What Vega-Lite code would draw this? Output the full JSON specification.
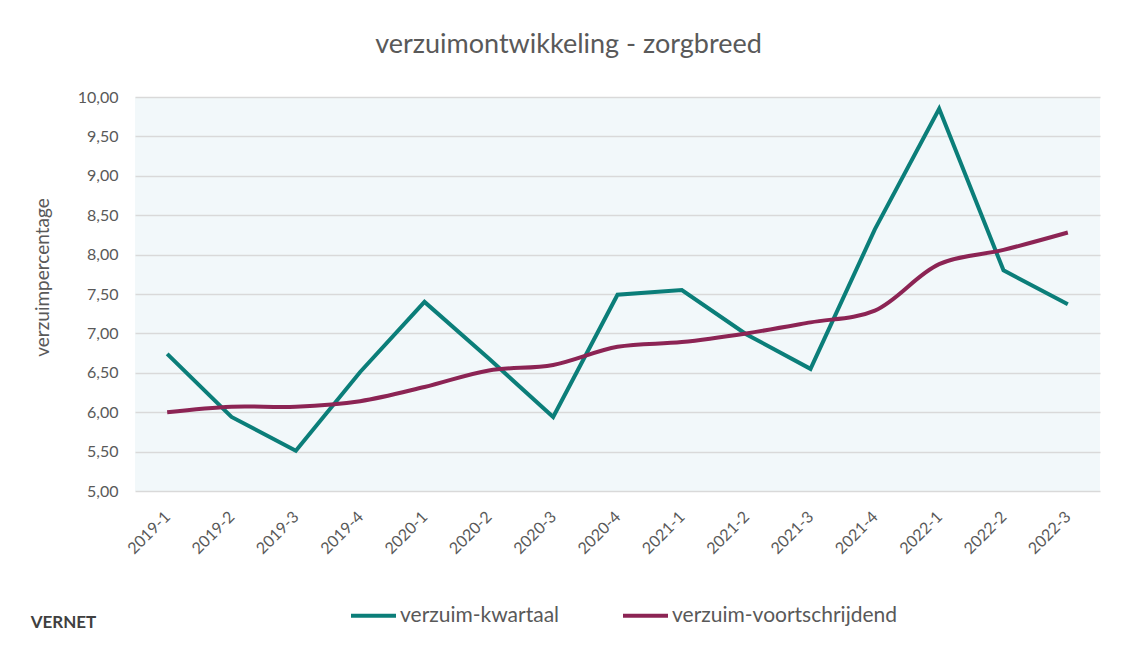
{
  "$schema": "https://vega.github.io/schema/vega-lite/v6.json",
  "width": 965,
  "height": 394,
  "autosize": {"type": "none"},
  "padding": {"left": 135, "top": 97, "right": 27, "bottom": 155},
  "background": "#ffffff",
  "config": {
    "locale": {"number": {"decimal": ",", "thousands": ".", "grouping": [3], "currency": ["€", ""]}},
    "font": "Lato",
    "view": {"fill": "#F2F8FA", "stroke": null}
  },
  "title": {
    "text": "verzuimontwikkeling - zorgbreed",
    "font": "Lato",
    "fontSize": 27,
    "fontWeight": "normal",
    "color": "#595959",
    "anchor": "middle",
    "dx": -49,
    "offset": 30
  },
  "data": {
    "values": [
      {"kwartaal": "2019-1", "reeks": "verzuim-kwartaal", "verzuim": 6.74},
      {"kwartaal": "2019-2", "reeks": "verzuim-kwartaal", "verzuim": 5.94},
      {"kwartaal": "2019-3", "reeks": "verzuim-kwartaal", "verzuim": 5.51},
      {"kwartaal": "2019-4", "reeks": "verzuim-kwartaal", "verzuim": 6.51},
      {"kwartaal": "2020-1", "reeks": "verzuim-kwartaal", "verzuim": 7.40},
      {"kwartaal": "2020-2", "reeks": "verzuim-kwartaal", "verzuim": 6.68},
      {"kwartaal": "2020-3", "reeks": "verzuim-kwartaal", "verzuim": 5.94},
      {"kwartaal": "2020-4", "reeks": "verzuim-kwartaal", "verzuim": 7.49},
      {"kwartaal": "2021-1", "reeks": "verzuim-kwartaal", "verzuim": 7.55},
      {"kwartaal": "2021-2", "reeks": "verzuim-kwartaal", "verzuim": 6.99},
      {"kwartaal": "2021-3", "reeks": "verzuim-kwartaal", "verzuim": 6.55},
      {"kwartaal": "2021-4", "reeks": "verzuim-kwartaal", "verzuim": 8.32},
      {"kwartaal": "2022-1", "reeks": "verzuim-kwartaal", "verzuim": 9.85},
      {"kwartaal": "2022-2", "reeks": "verzuim-kwartaal", "verzuim": 7.80},
      {"kwartaal": "2022-3", "reeks": "verzuim-kwartaal", "verzuim": 7.37},
      {"kwartaal": "2019-1", "reeks": "verzuim-voortschrijdend", "verzuim": 6.00},
      {"kwartaal": "2019-2", "reeks": "verzuim-voortschrijdend", "verzuim": 6.07},
      {"kwartaal": "2019-3", "reeks": "verzuim-voortschrijdend", "verzuim": 6.07},
      {"kwartaal": "2019-4", "reeks": "verzuim-voortschrijdend", "verzuim": 6.14},
      {"kwartaal": "2020-1", "reeks": "verzuim-voortschrijdend", "verzuim": 6.32},
      {"kwartaal": "2020-2", "reeks": "verzuim-voortschrijdend", "verzuim": 6.53},
      {"kwartaal": "2020-3", "reeks": "verzuim-voortschrijdend", "verzuim": 6.60},
      {"kwartaal": "2020-4", "reeks": "verzuim-voortschrijdend", "verzuim": 6.83},
      {"kwartaal": "2021-1", "reeks": "verzuim-voortschrijdend", "verzuim": 6.89},
      {"kwartaal": "2021-2", "reeks": "verzuim-voortschrijdend", "verzuim": 7.00},
      {"kwartaal": "2021-3", "reeks": "verzuim-voortschrijdend", "verzuim": 7.14},
      {"kwartaal": "2021-4", "reeks": "verzuim-voortschrijdend", "verzuim": 7.29},
      {"kwartaal": "2022-1", "reeks": "verzuim-voortschrijdend", "verzuim": 7.88},
      {"kwartaal": "2022-2", "reeks": "verzuim-voortschrijdend", "verzuim": 8.06},
      {"kwartaal": "2022-3", "reeks": "verzuim-voortschrijdend", "verzuim": 8.28}
    ]
  },
  "encoding": {
    "x": {
      "field": "kwartaal",
      "type": "ordinal",
      "scale": {"type": "point", "padding": 0.5},
      "axis": {
        "title": "VERNET",
        "titleX": -72,
        "titleY": 131,
        "titleAlign": "center",
        "titleBaseline": "middle",
        "titleFont": "Lato",
        "titleFontSize": 17,
        "titleFontWeight": "bold",
        "titleColor": "#404040",
        "labelAngle": -45,
        "labelAlign": "right",
        "labelBaseline": "middle",
        "labelFontSize": 16,
        "labelColor": "#595959",
        "labelPadding": 23,
        "ticks": false,
        "domain": false,
        "grid": false
      }
    },
    "y": {
      "field": "verzuim",
      "type": "quantitative",
      "scale": {"domain": [5, 10], "nice": false, "zero": false},
      "axis": {
        "title": "verzuimpercentage",
        "titleFont": "Lato",
        "titleFontSize": 19,
        "titleFontWeight": "normal",
        "titleColor": "#595959",
        "titlePadding": 25,
        "titleY": 180,
        "values": [5, 5.5, 6, 6.5, 7, 7.5, 8, 8.5, 9, 9.5, 10],
        "format": ".2f",
        "labelFontSize": 16,
        "labelColor": "#595959",
        "labelPadding": 17,
        "ticks": false,
        "domain": false,
        "grid": true,
        "gridColor": "#D9D9D9",
        "gridWidth": 1.5
      }
    },
    "color": {
      "field": "reeks",
      "type": "nominal",
      "scale": {
        "domain": ["verzuim-kwartaal", "verzuim-voortschrijdend"],
        "range": ["#0B7E79", "#8C2454"]
      },
      "legend": {
        "title": null,
        "orient": "none",
        "direction": "horizontal",
        "legendX": 214,
        "legendY": 494,
        "symbolType": "stroke",
        "symbolStrokeWidth": 4,
        "symbolSize": 2025,
        "labelFont": "Lato",
        "labelFontSize": 21,
        "labelColor": "#595959",
        "labelOffset": 2,
        "labelLimit": 400,
        "columnPadding": 55
      }
    }
  },
  "layer": [
    {
      "transform": [{"filter": "datum.reeks === 'verzuim-kwartaal'"}],
      "mark": {"type": "line", "strokeWidth": 4, "interpolate": "linear"}
    },
    {
      "transform": [{"filter": "datum.reeks === 'verzuim-voortschrijdend'"}],
      "mark": {"type": "line", "strokeWidth": 4, "interpolate": "catmull-rom"}
    }
  ]
}
